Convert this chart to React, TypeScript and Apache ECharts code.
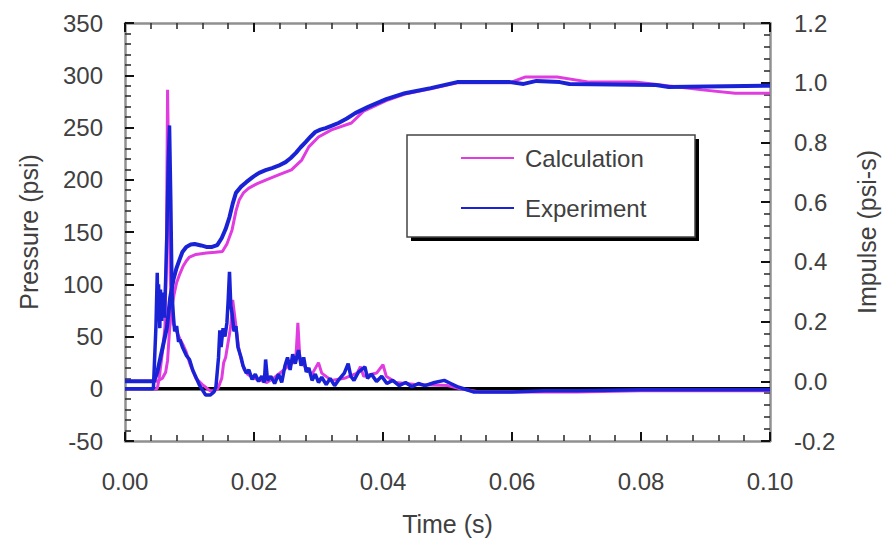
import React, { useEffect, useRef } from "react";
import * as echarts from "echarts";

const xTicks = [0, 0.02, 0.04, 0.06, 0.08, 0.1];
const seriesNames = ["Calculation", "Experiment"];

// Pressure (psi) vs time (s)
const pressureExperiment: [number, number][] = [
  [0, 0], [0.0044, 0], [0.0046, 30], [0.0048, 60], [0.0050, 111], [0.0051, 70], [0.0052, 100],
  [0.0054, 58], [0.0055, 95], [0.0057, 65], [0.0059, 92], [0.0061, 68], [0.0063, 104],
  [0.0065, 150], [0.0067, 215], [0.0069, 252], [0.0071, 180], [0.0073, 90], [0.0075, 70],
  [0.0077, 55], [0.0080, 60], [0.0083, 45], [0.0085, 47], [0.0089, 40], [0.0095, 32],
  [0.0100, 28], [0.0105, 18], [0.0110, 11], [0.0115, 4], [0.0120, -1], [0.0125, -6],
  [0.0132, -6], [0.0138, -3], [0.0141, 2], [0.0145, 30], [0.0147, 56], [0.0149, 40],
  [0.0152, 58], [0.0155, 50], [0.0158, 63], [0.0160, 85], [0.0162, 112], [0.0164, 80],
  [0.0166, 72], [0.0169, 55], [0.0172, 60], [0.0175, 40], [0.0180, 30], [0.0183, 22],
  [0.0188, 15], [0.0192, 18], [0.0197, 9], [0.0202, 14], [0.0207, 7], [0.0212, 12],
  [0.0216, 6], [0.0218, 28], [0.0221, 8], [0.0226, 12], [0.0232, 5], [0.0238, 14],
  [0.0243, 6], [0.0248, 22], [0.0252, 30], [0.0256, 18], [0.0260, 33], [0.0264, 24],
  [0.0269, 37], [0.0273, 22], [0.0277, 30], [0.0281, 16], [0.0285, 20], [0.0290, 8],
  [0.0295, 14], [0.0300, 6], [0.0305, 11], [0.0312, 4], [0.0318, 10], [0.0325, 3],
  [0.0332, 9], [0.0340, 15], [0.0346, 24], [0.0350, 12], [0.0355, 8], [0.0362, 16],
  [0.0372, 21], [0.0376, 10], [0.0382, 14], [0.0390, 7], [0.0398, 12], [0.0406, 5],
  [0.0415, 8], [0.0425, 3], [0.0435, 6], [0.0445, 2], [0.0455, 5], [0.0465, 3],
  [0.0480, 6], [0.0495, 8], [0.0505, 5], [0.0515, 2], [0.0525, 0], [0.0540, -3],
  [0.0600, -3], [0.0650, -2], [0.0700, -2], [0.0800, -1], [0.1000, -1],
];

const pressureCalculation: [number, number][] = [
  [0, 0], [0.0050, 0], [0.0053, 10], [0.0056, 25], [0.0059, 40], [0.0062, 60], [0.0064, 120],
  [0.0066, 286], [0.0068, 200], [0.0070, 110], [0.0072, 75], [0.0075, 62], [0.0080, 55],
  [0.0085, 48], [0.0090, 42], [0.0095, 35], [0.0100, 25], [0.0105, 17], [0.0110, 10],
  [0.0120, 4], [0.0126, 1], [0.0132, -2], [0.0138, -2], [0.0144, 0], [0.0150, 10],
  [0.0153, 25], [0.0156, 30], [0.0160, 45], [0.0164, 60], [0.0167, 85], [0.0170, 70],
  [0.0173, 55], [0.0176, 40], [0.0180, 28], [0.0185, 18], [0.0190, 14], [0.0200, 10],
  [0.0210, 8], [0.0220, 6], [0.0230, 10], [0.0240, 15], [0.0250, 20], [0.0260, 25],
  [0.0265, 30], [0.0268, 63], [0.0271, 30], [0.0280, 20], [0.0290, 14], [0.0300, 25],
  [0.0305, 15], [0.0320, 8], [0.0340, 10], [0.0360, 15], [0.0365, 21], [0.0370, 12],
  [0.0390, 15], [0.0400, 23], [0.0405, 12], [0.0420, 6], [0.0450, 4], [0.0500, 3],
  [0.0520, 0], [0.0550, -3], [0.0700, -3], [0.0800, -2], [0.1000, -2],
];

// Impulse (psi-s) vs time (s)
const impulseExperiment: [number, number][] = [
  [0, 0], [0.0045, 0], [0.0050, 0.03], [0.0055, 0.08], [0.0060, 0.13], [0.0065, 0.18],
  [0.0070, 0.28], [0.0075, 0.34], [0.0080, 0.38], [0.0085, 0.41], [0.0089, 0.433],
  [0.0095, 0.45], [0.0102, 0.458], [0.0108, 0.46], [0.0118, 0.455], [0.0126, 0.45],
  [0.0135, 0.45], [0.0143, 0.456], [0.0150, 0.48], [0.0156, 0.51], [0.0162, 0.55],
  [0.0167, 0.595], [0.0172, 0.631], [0.0180, 0.652], [0.0188, 0.667], [0.0198, 0.684],
  [0.0208, 0.698], [0.0218, 0.707], [0.0228, 0.714], [0.0238, 0.722], [0.0249, 0.734],
  [0.0257, 0.748], [0.0265, 0.765], [0.0272, 0.783], [0.0280, 0.801], [0.0288, 0.82],
  [0.0295, 0.835], [0.0303, 0.843], [0.0311, 0.848], [0.0321, 0.856], [0.0331, 0.865],
  [0.0344, 0.88], [0.0357, 0.898], [0.0377, 0.919], [0.0405, 0.945], [0.0434, 0.965],
  [0.0474, 0.982], [0.0515, 1.002], [0.0597, 1.002], [0.0618, 0.996], [0.0638, 1.006],
  [0.0674, 1.002], [0.0689, 0.996], [0.0823, 0.992], [0.0843, 0.986], [0.1, 0.99],
];

const impulseCalculation: [number, number][] = [
  [0, 0], [0.0050, 0], [0.0058, 0.01], [0.0063, 0.03], [0.0066, 0.07], [0.0069, 0.17],
  [0.0072, 0.24], [0.0076, 0.29], [0.0080, 0.33], [0.0085, 0.36], [0.0090, 0.385],
  [0.0095, 0.403], [0.0100, 0.416], [0.0110, 0.425], [0.0126, 0.43], [0.0140, 0.432],
  [0.0151, 0.435], [0.0158, 0.46], [0.0166, 0.507], [0.0172, 0.57], [0.0177, 0.607],
  [0.0184, 0.632], [0.0192, 0.647], [0.0205, 0.662], [0.0218, 0.674], [0.0238, 0.691],
  [0.0258, 0.708], [0.0274, 0.741], [0.0285, 0.785], [0.0300, 0.818], [0.0320, 0.842],
  [0.0351, 0.865], [0.0370, 0.905], [0.0405, 0.94], [0.0434, 0.962], [0.0474, 0.98],
  [0.0515, 1.0], [0.0597, 1.0], [0.0620, 1.019], [0.0670, 1.019], [0.0720, 1.002],
  [0.0790, 1.002], [0.0818, 0.996], [0.0895, 0.976], [0.0946, 0.965], [0.1, 0.965],
];

const zeroLine: [number, number][] = [[0, 0], [0.1, 0]];

const MAGENTA = "#e03ce0";
const BLUE = "#1a22d6";
const FONT = "Liberation Sans, Arial, sans-serif";
const TEXT = "#404040";

export default function App() {
  const ref = useRef<HTMLDivElement>(null);
  useEffect(() => {
    document.body.style.margin = "0";
    if (!ref.current) return;
    const chart = echarts.init(ref.current, undefined, { renderer: "svg" });
    const axisLine = { show: true, onZero: false, lineStyle: { color: "#909090", width: 2.5 } };
    const tick = { show: true, inside: true, length: 9, lineStyle: { color: "#111", width: 2 } };
    const minor = { show: true, splitNumber: 5, length: 6, lineStyle: { color: "#333", width: 1.6 } };
    const label = { fontSize: 24, color: TEXT, fontFamily: FONT };
    const nameStyle = { fontSize: 25, color: TEXT, fontFamily: FONT };
    chart.setOption({
      animation: false,
      backgroundColor: "#fff",
      grid: { left: 125, right: 112, top: 23, bottom: 101, containLabel: false },
      xAxis: [
        {
          type: "value", min: xTicks[0], max: xTicks[xTicks.length - 1], interval: 0.02,
          position: "bottom", name: "Time (s)", nameLocation: "middle", nameGap: 70,
          nameTextStyle: nameStyle,
          axisLine, axisTick: tick, minorTick: minor, splitLine: { show: false },
          axisLabel: { ...label, margin: 28, formatter: (v: number) => v.toFixed(2) },
        },
        {
          type: "value", min: xTicks[0], max: xTicks[xTicks.length - 1], interval: 0.02,
          position: "top", axisLine, axisTick: tick, minorTick: minor,
          splitLine: { show: false }, axisLabel: { show: false },
        },
      ],
      yAxis: [
        {
          type: "value", min: -50, max: 350, interval: 50, position: "left",
          name: "Pressure (psi)", nameLocation: "middle", nameGap: 84, nameRotate: 90,
          nameTextStyle: nameStyle,
          axisLine, axisTick: tick, minorTick: minor, splitLine: { show: false },
          axisLabel: { ...label, margin: 22 },
        },
        {
          type: "value", min: -0.2, max: 1.2, interval: 0.2, position: "right",
          name: "Impulse (psi-s)", nameLocation: "middle", nameGap: 84, nameRotate: 90,
          nameTextStyle: nameStyle,
          axisLine, axisTick: tick, minorTick: minor, splitLine: { show: false },
          axisLabel: { ...label, margin: 24, formatter: (v: number) => v.toFixed(1) },
        },
      ],
      legend: {
        data: seriesNames,
        orient: "vertical",
        left: 456,
        top: 141,
        icon: "rect",
        itemWidth: 53,
        itemHeight: 2,
        itemGap: 26,
        textStyle: { fontSize: 24, color: TEXT, fontFamily: FONT, padding: [0, 0, 0, 6] },
        z: 20,
      },
      graphic: [
        { type: "rect", shape: { x: 411, y: 139, width: 288, height: 102 }, style: { fill: "#000" }, z: 5 },
        { type: "rect", shape: { x: 407, y: 135, width: 288, height: 102 }, style: { fill: "#fff", stroke: "#444", lineWidth: 1.5 }, z: 6 },
      ],
      series: [
        {
          name: "", type: "line", data: zeroLine, xAxisIndex: 0, yAxisIndex: 0,
          symbol: "none", lineStyle: { color: "#000", width: 3.5 }, z: 1, silent: true,
        },
        {
          name: seriesNames[0], type: "line", data: pressureCalculation, xAxisIndex: 0, yAxisIndex: 0,
          symbol: "none", color: MAGENTA, lineStyle: { color: MAGENTA, width: 3 }, z: 2,
        },
        {
          name: seriesNames[0], type: "line", data: impulseCalculation, xAxisIndex: 0, yAxisIndex: 1,
          symbol: "none", color: MAGENTA, lineStyle: { color: MAGENTA, width: 3 }, z: 2,
        },
        {
          name: seriesNames[1], type: "line", data: pressureExperiment, xAxisIndex: 0, yAxisIndex: 0,
          symbol: "none", color: BLUE, lineStyle: { color: BLUE, width: 3.5 }, z: 3,
        },
        {
          name: seriesNames[1], type: "line", data: impulseExperiment, xAxisIndex: 0, yAxisIndex: 1,
          symbol: "none", color: BLUE, lineStyle: { color: BLUE, width: 4 }, z: 3,
        },
      ],
    });
    return () => chart.dispose();
  }, []);
  return <div ref={ref} style={{ width: 887, height: 542 }} />;
}
